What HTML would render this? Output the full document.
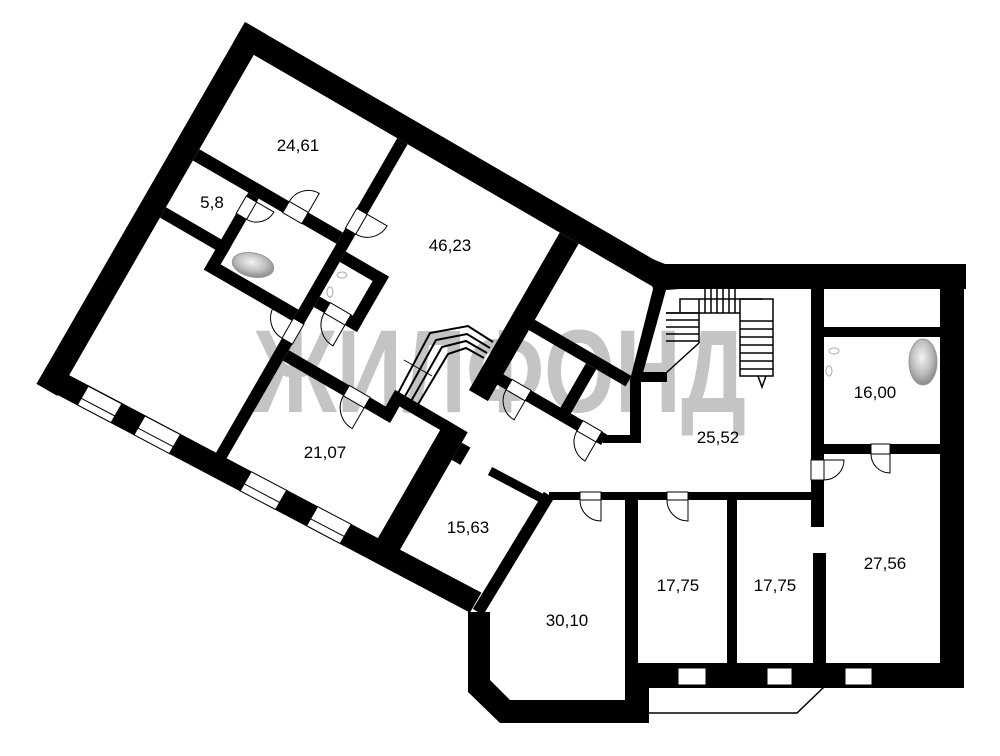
<!DOCTYPE html>
<html><head><meta charset="utf-8"><style>
html,body{margin:0;padding:0;background:#fff;}
svg{display:block;}
text{font-family:"Liberation Sans",sans-serif;}
</style></head><body>
<svg width="1000" height="756" viewBox="0 0 1000 756" xmlns="http://www.w3.org/2000/svg">
<defs>
<radialGradient id="tub" cx="45%" cy="40%" r="60%">
<stop offset="0" stop-color="#f4f4f4"/><stop offset="0.6" stop-color="#bdbdbd"/><stop offset="1" stop-color="#8a8a8a"/>
</radialGradient>
</defs>
<rect width="1000" height="756" fill="#fff"/>
<!-- watermark -->
<text x="500" y="412" text-anchor="middle" font-size="118" font-weight="bold" fill="#c4c4c4" textLength="492" lengthAdjust="spacingAndGlyphs">ЖИЛФОНД</text>

<!-- rotated block -->
<g transform="matrix(0.8642,0.5021,-0.4988,0.8657,245,22)" fill="#000">
<rect x="0" y="0" width="490" height="24"/>
<rect x="0" y="0" width="24" height="418"/>
<polygon points="0,395 490,375 490,398 0,418"/>
<!-- windows -->
<g fill="#fff" stroke="#000" stroke-width="1">
<polygon points="46,394 84,392.4 84,414 46,415.6"/>
<polygon points="110,391.3 150,389.6 150,411.5 110,413"/>
<polygon points="230,386.1 270,384.4 270,406.5 230,408.2"/>
<polygon points="305,382.9 343,381.3 343,403.5 305,405"/>
</g>
<g stroke="#000" stroke-width="1">
<line x1="46" y1="408" x2="84" y2="406.4"/>
<line x1="110" y1="405.3" x2="150" y2="403.6"/>
<line x1="230" y1="400" x2="270" y2="398.4"/>
<line x1="305" y1="397" x2="343" y2="395.3"/>
</g>
<!-- long wall -->
<rect x="190" y="24" width="12" height="81"/>
<rect x="190" y="128" width="12" height="104"/>
<rect x="190" y="255" width="12" height="135"/>
<!-- wall A -->
<rect x="24" y="133" width="104" height="13"/>
<rect x="150" y="133" width="40" height="13"/>
<!-- 5,8 bottom -->
<rect x="24" y="200" width="76" height="12"/>
<!-- bath -->
<rect x="88" y="170" width="12" height="65"/>
<rect x="88" y="146" width="12" height="4"/>
<rect x="88" y="222" width="102" height="13"/>
<!-- toilet -->
<rect x="202" y="148" width="50" height="12"/>
<rect x="240" y="148" width="12" height="64"/>
<rect x="202" y="200" width="12" height="12"/>
<rect x="238" y="200" width="14" height="12"/>
<!-- 21,07 top -->
<rect x="202" y="262" width="70" height="12"/>
<rect x="296" y="262" width="30" height="12"/>
<rect x="314" y="243" width="12" height="31"/>
<rect x="314" y="243" width="66" height="12"/>
<rect x="373" y="243" width="25" height="150"/>
<rect x="398" y="255" width="10" height="20"/>
<!-- 46,23 right thick wall -->
<rect x="378" y="24" width="22" height="182"/>
<!-- small rooms -->
<rect x="400" y="112" width="112" height="12"/>
<rect x="398" y="175" width="12" height="12"/>
<rect x="432" y="175" width="60" height="12"/>
<rect x="514" y="175" width="6" height="12"/>
<rect x="466" y="124" width="12" height="55"/>
<!-- door frames + leaves -->
<g fill="none" stroke="#000" stroke-width="1">
<rect x="128" y="133" width="22" height="13" fill="#fff"/>
<path d="M128,133 A22,22 0 0 1 150,111 L150,133"/>
<rect x="190" y="105" width="12" height="23" fill="#fff"/>
<path d="M202,128 A23,23 0 0 0 225,105 L202,105"/>
<rect x="88" y="150" width="12" height="20" fill="#fff"/>
<path d="M100,170 A20,20 0 0 0 120,150 L100,150"/>
<rect x="190" y="232" width="12" height="23" fill="#fff"/>
<path d="M190,255 A23,23 0 0 1 167,232 L190,232"/>
<rect x="214" y="200" width="24" height="12" fill="#fff"/>
<path d="M214,212 A24,24 0 0 0 238,236 L238,212"/>
<rect x="272" y="262" width="24" height="12" fill="#fff"/>
<path d="M272,274 A24,24 0 0 0 296,298 L296,274"/>
<rect x="410" y="175" width="22" height="12" fill="#fff"/>
<path d="M410,187 A22,22 0 0 0 432,209 L432,187"/>
<rect x="492" y="175" width="22" height="12" fill="#fff"/>
<path d="M492,187 A22,22 0 0 0 514,209 L514,187"/>
</g>
</g>

<!-- curved stair -->
<g fill="none" stroke="#000" stroke-width="2">
<polyline points="396,397 430,333 468,326 493,342"/>
<polyline points="403,400 436,340 467,334 490,348"/>
<polyline points="410,403 442,347 466,341 487,353"/>
<polyline points="417,406 448,354 466,348 484,358"/>
</g>
<line x1="404" y1="360" x2="432" y2="376" stroke="#000" stroke-width="1"/>

<!-- right building walls -->
<g fill="#000">
<polygon points="645,256 665,264 680,264 680,289 666,290 641,380 641,443 630,443 630,380 653,289"/>
<rect x="665" y="264" width="301" height="25"/>
<rect x="940" y="264" width="24" height="424"/>
<rect x="824" y="327" width="116" height="10"/>
<rect x="811" y="289" width="13" height="171"/>
<rect x="811" y="480" width="13" height="47"/>
<rect x="813" y="553" width="13" height="135"/>
<rect x="824" y="444" width="116" height="10"/>
<rect x="549" y="492" width="264" height="8"/>
<rect x="603" y="435" width="38" height="8"/>
<rect x="641" y="372" width="26" height="10"/>
<rect x="625" y="495" width="13" height="193"/>
<rect x="727" y="495" width="10" height="170"/>
<rect x="625" y="663" width="339" height="25"/>
<polygon points="468,612 490,612 490,680 510,700 625,700 625,663 649,663 649,723 500,723 468,692"/>
</g>
<line x1="490" y1="471" x2="545" y2="500" stroke="#000" stroke-width="9"/>
<line x1="549" y1="495" x2="478" y2="612" stroke="#000" stroke-width="12"/>
<!-- windows right -->
<g fill="#fff" stroke="#000" stroke-width="1">
<rect x="678" y="668" width="28" height="17"/>
<rect x="767" y="668" width="25" height="17"/>
<rect x="845" y="668" width="27" height="17"/>
</g>
<!-- balcony -->
<polyline points="649,687 824,687 797,713 649,713" fill="none" stroke="#000" stroke-width="1.5"/>

<!-- stairs right -->
<g fill="none" stroke="#000" stroke-width="1.5">
<polyline points="680,313 680,299 763,299"/>
<rect x="740" y="299" width="33" height="77"/>
<line x1="699" y1="299" x2="699" y2="343"/>
<line x1="699" y1="343" x2="666" y2="373"/>
<line x1="666" y1="313" x2="699" y2="313"/>
<line x1="666" y1="320" x2="699" y2="320"/>
<line x1="666" y1="327" x2="699" y2="327"/>
<line x1="666" y1="334" x2="699" y2="334"/>
<line x1="666" y1="341" x2="699" y2="341"/>
<line x1="666" y1="313" x2="740" y2="313"/>
<line x1="705" y1="289" x2="705" y2="313"/>
<line x1="711" y1="289" x2="711" y2="313"/>
<line x1="717" y1="289" x2="717" y2="313"/>
<line x1="723" y1="289" x2="723" y2="313"/>
<line x1="729" y1="289" x2="729" y2="313"/>
<line x1="735" y1="289" x2="735" y2="313"/>
<line x1="740" y1="321" x2="773" y2="321"/>
<line x1="740" y1="329" x2="773" y2="329"/>
<line x1="740" y1="337" x2="773" y2="337"/>
<line x1="740" y1="345" x2="773" y2="345"/>
<line x1="740" y1="353" x2="773" y2="353"/>
<line x1="740" y1="361" x2="773" y2="361"/>
<line x1="740" y1="369" x2="773" y2="369"/>
<polyline points="758,376 762,387 766,376"/>
</g>

<!-- right doors -->
<g fill="none" stroke="#000" stroke-width="1">
<rect x="811" y="460" width="13" height="20" fill="#fff"/>
<path d="M824,480 A20,20 0 0 0 844,460 L824,460"/>
<rect x="871" y="444" width="19" height="10" fill="#fff"/>
<path d="M871,454 A19,19 0 0 0 890,473 L890,454"/>
<rect x="580" y="492" width="21" height="8" fill="#fff"/>
<path d="M580,500 A21,21 0 0 0 601,521 L601,500"/>
<rect x="667" y="492" width="21" height="8" fill="#fff"/>
<path d="M667,500 A21,21 0 0 0 688,521 L688,500"/>
</g>

<!-- fixtures -->
<ellipse cx="253" cy="265" rx="21" ry="12" transform="rotate(12 253 265)" fill="url(#tub)" stroke="#999" stroke-width="1"/>
<ellipse cx="923" cy="362" rx="14" ry="23" fill="url(#tub)" stroke="#999" stroke-width="1"/>
<g fill="none" stroke="#aaa" stroke-width="1">
<ellipse cx="342" cy="275" rx="5" ry="3"/>
<ellipse cx="330" cy="292" rx="3" ry="5"/>
<ellipse cx="834" cy="351" rx="5" ry="3"/>
<ellipse cx="829" cy="371" rx="3" ry="5"/>
</g>

<!-- labels -->
<g font-size="17" fill="#000" text-anchor="middle">
<text x="298" y="151">24,61</text>
<text x="212" y="208">5,8</text>
<text x="450" y="251">46,23</text>
<text x="875" y="398">16,00</text>
<text x="718" y="443">25,52</text>
<text x="325" y="458">21,07</text>
<text x="468" y="533">15,63</text>
<text x="567" y="626">30,10</text>
<text x="678" y="591">17,75</text>
<text x="775" y="591">17,75</text>
<text x="885" y="569">27,56</text>
</g>
</svg>
</body></html>
